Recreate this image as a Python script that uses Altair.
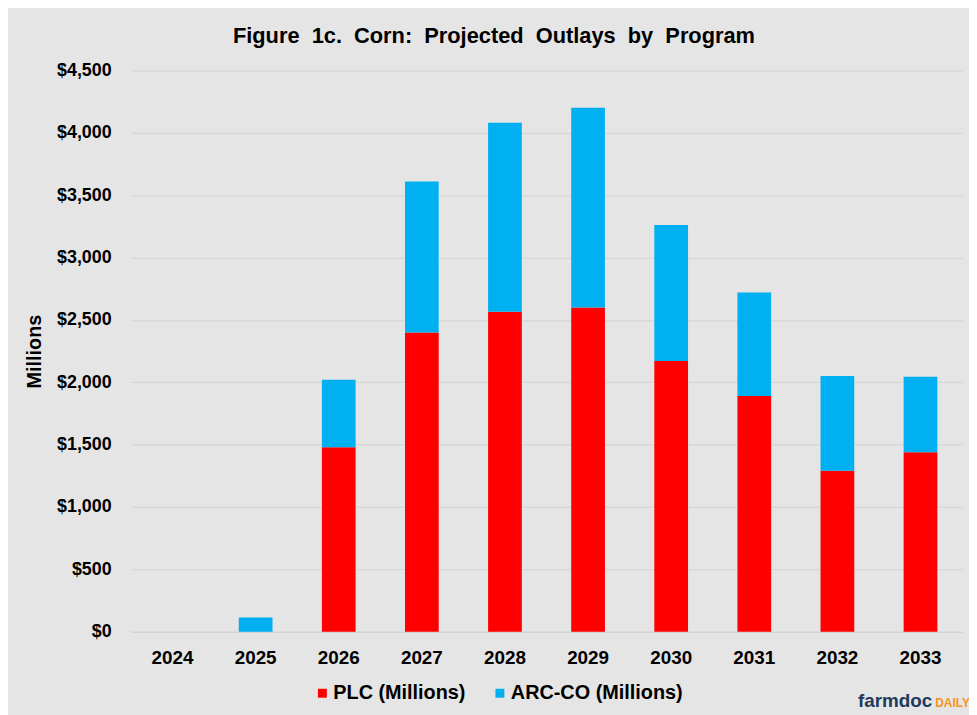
import altair as alt
import pandas as pd

years = ["2024", "2025", "2026", "2027", "2028", "2029", "2030", "2031", "2032", "2033"]
plc = [0, 0, 1480, 2400, 2565, 2600, 2170, 1890, 1290, 1440]
arc = [0, 115, 540, 1210, 1515, 1600, 1090, 830, 760, 605]
series = ["PLC (Millions)", "ARC-CO (Millions)"]
colors = ["#ff0000", "#00b0f0"]

rows = []
for i, y in enumerate(years):
    rows.append({"year": y, "program": series[0], "value": plc[i], "ord": 0})
    rows.append({"year": y, "program": series[1], "value": arc[i], "ord": 1})
df = pd.DataFrame(rows)

FONT = "Liberation Sans"
SP = " \u00a0"
title_text = SP.join(["Figure", "1c.", "Corn:", "Projected", "Outlays", "by", "Program"])

bars = alt.Chart(df).mark_bar(size=34).encode(
    x=alt.X("year:N", sort=years,
            scale=alt.Scale(paddingInner=0.6, paddingOuter=0.3),
            axis=alt.Axis(title=None, labelAngle=0, labelFontSize=19, labelFontWeight="bold",
                          labelFont=FONT, labelColor="#000000", ticks=False,
                          domain=True, domainColor="#d0d0d0", labelPadding=17, grid=False)),
    y=alt.Y("value:Q", stack="zero",
            scale=alt.Scale(domain=[0, 4500], nice=False),
            axis=alt.Axis(title="Millions", values=list(range(0, 4501, 500)),
                          format="$,.0f", labelFontSize=18, labelFontWeight="bold",
                          labelFont=FONT, labelColor="#000000", ticks=False, domain=False,
                          labelPadding=20, titleFontSize=20, titleFont=FONT,
                          titleFontWeight="bold", titleColor="#000000",
                          titleX=-97, titleY=283, titleAngle=-90, titleAlign="center",
                          titleBaseline="middle",
                          gridColor="#d2d2d2", gridWidth=1)),
    color=alt.Color("program:N", sort=series,
                    scale=alt.Scale(domain=series, range=colors),
                    legend=alt.Legend(title=None, orient="none", direction="horizontal",
                                      legendX=183, legendY=618, symbolType="square",
                                      symbolSize=81, symbolStrokeWidth=0,
                                      labelFontSize=20, labelFont=FONT, labelLimit=400,
                                      labelFontWeight="bold", labelColor="#000000",
                                      columnPadding=24, labelOffset=1)),
    order=alt.Order("ord:Q"),
)

logo1 = alt.Chart(alt.Data(values=[{}])).mark_text(
    text="farmdoc", font=FONT, fontSize=19, fontWeight="bold", color="#1e3a5c",
    align="left", baseline="alphabetic"
).encode(x=alt.value(733), y=alt.value(642))

logo2 = alt.Chart(alt.Data(values=[{}])).mark_text(
    text="DAILY", font=FONT, fontSize=12, fontWeight="bold", color="#f7941d",
    align="left", baseline="alphabetic"
).encode(x=alt.value(811), y=alt.value(642))

chart = alt.layer(bars, logo1, logo2).properties(
    width=838, height=566,
    title=alt.TitleParams(title_text,
                          fontSize=22, font=FONT, fontWeight="bold", color="#000000",
                          anchor="middle", dx=-53, offset=14),
    autosize=alt.AutoSizeParams(type="none"),
    padding={"left": 124, "top": 60, "right": 7, "bottom": 81},
    background="#e5e5e5",
).configure_view(stroke=None, fill="#e5e5e5")

chart.save("out.html", embed_options={"renderer": "svg", "actions": False})
